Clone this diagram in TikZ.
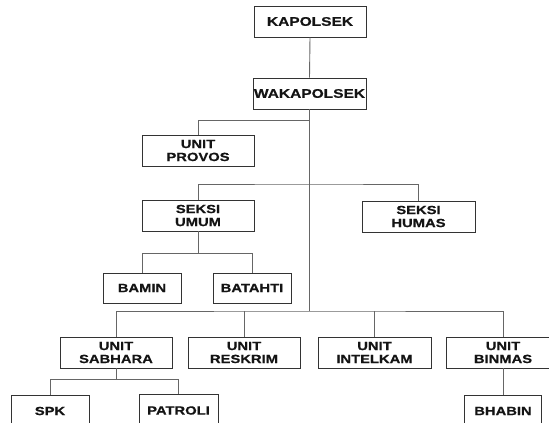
\documentclass[tikz,border=0pt]{standalone}
\usepackage{fontspec}
\setmainfont{Liberation Sans}[FakeStretch=1.24,BoldFeatures={FakeBold=0.6}]
\begin{document}
\begin{tikzpicture}[x=1pt,y=1pt,
  box/.style={draw=black!80,line width=0.9pt,fill=white,inner sep=0pt,align=center,
    font=\fontsize{11.9}{13}\selectfont\bfseries,text=black!92},
  big/.style={font=\fontsize{12.5}{13}\selectfont\bfseries},
  conn/.style={draw=black!60,line width=0.9pt}]
\useasboundingbox (0,0) rectangle (549,-423);
\clip (0,0) rectangle (549,-423);
% nodes
\node[box,big,minimum width=112,minimum height=31] (kap) at (310,-21.5) {KAPOLSEK};
\node[box,big,minimum width=113,minimum height=31] (wak) at (309.5,-93.5) {WAKAPOLSEK};
\node[box,minimum width=112,minimum height=31] (prov) at (198,-150.5) {UNIT\\PROVOS};
\node[box,minimum width=112,minimum height=31] (umum) at (198,-215.5) {SEKSI\\UMUM};
\node[box,minimum width=113,minimum height=31] (humas) at (418.5,-216.5) {SEKSI\\HUMAS};
\node[box,minimum width=78,minimum height=30] (bamin) at (142,-288) {BAMIN};
\node[box,minimum width=78,minimum height=30] (bat) at (252,-288) {BATAHTI};
\node[box,minimum width=112,minimum height=31] (sab) at (116,-352.5) {UNIT\\SABHARA};
\node[box,minimum width=112,minimum height=31] (res) at (244,-352.5) {UNIT\\RESKRIM};
\node[box,minimum width=113,minimum height=31] (int) at (374.5,-352.5) {UNIT\\INTELKAM};
\node[box,minimum width=114,minimum height=31] (bin) at (503,-352.5) {UNIT\\BINMAS};
\node[box,minimum width=78,minimum height=32] (spk) at (50,-411) {SPK};
\node[box,minimum width=79,minimum height=32] (pat) at (178.5,-410.5) {PATROLI};
\node[box,minimum width=77,minimum height=32] (bhab) at (503,-411) {BHABIN};
% junctions
\coordinate (j1) at (309.5,-120);
\coordinate (j2) at (309.5,-184);
\coordinate (jb) at (309.5,-311);
\path (umum.south) ++(0,-22) coordinate (j3);
\path (sab.south) ++(0,-11) coordinate (j4);
% connectors
\draw[conn] (kap.south) -- (wak.north);
\draw[conn] (wak.south) -- (jb);
\draw[conn] (prov.north) |- (j1);
\draw[conn] (umum.north) |- (j2) -| (humas.north);
\draw[conn] (umum.south) -- (j3);
\draw[conn] (bamin.north) |- (j3) -| (bat.north);
\draw[conn] (sab.north) |- (jb) -| (bin.north);
\draw[conn] (res.north) -- (res.north |- jb);
\draw[conn] (int.north) -- (int.north |- jb);
\draw[conn] (sab.south) -- (j4);
\draw[conn] (spk.north) |- (j4) -| (pat.north);
\draw[conn] (bin.south) -- (bhab.north);
\end{tikzpicture}
\end{document}
